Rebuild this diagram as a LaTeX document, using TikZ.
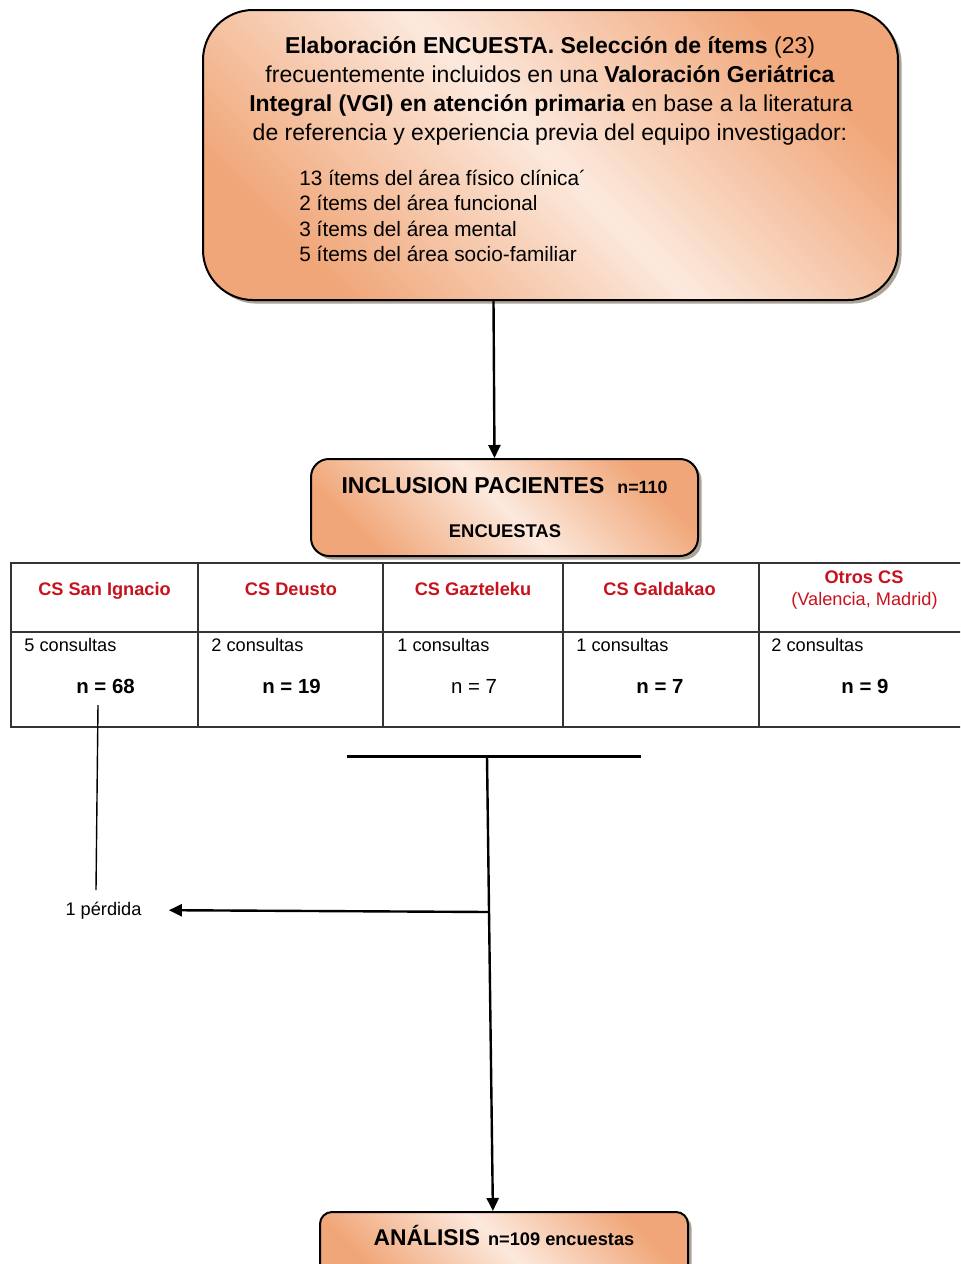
\documentclass[tikz,border=0pt]{standalone}
\usepackage{fontspec}
\setmainfont{Liberation Sans}
\usetikzlibrary{arrows.meta,shadows,calc}
\definecolor{boxor}{RGB}{240,166,120}
\definecolor{boxlt}{RGB}{252,233,221}
\definecolor{csred}{RGB}{200,18,30}
\tikzset{
  roundbox/.style={draw=black, line width=1pt, rounded corners=#1,
    left color=boxor, right color=boxor, middle color=boxlt, shading angle=135,
    drop shadow={shadow xshift=1.8pt, shadow yshift=-1.8pt, fill=black!60!brown, opacity=0.45}},
  bigtxt/.style={font=\fontsize{11.5}{14}\selectfont, anchor=base, inner sep=0pt},
  listtxt/.style={font=\fontsize{10.4}{12}\selectfont, anchor=base west, inner sep=0pt},
  tabtxt/.style={font=\fontsize{9.1}{11}\selectfont, inner sep=0pt},
  hdr/.style={tabtxt, text=csred, anchor=base},
  cons/.style={tabtxt, anchor=base west},
  nval/.style={font=\fontsize{10.2}{12}\selectfont, anchor=base, inner sep=0pt},
  tabline/.style={line width=0.8pt, draw=black!80},
  arr/.style={line width=1.2pt, -{Triangle[length=6.5pt,width=6pt]}},
  barline/.style={line width=1.5pt},
  thinline/.style={line width=0.7pt}
}
\begin{document}
\begin{tikzpicture}[x=0.5pt,y=-0.5pt]
\clip (0,0) rectangle (960,1264);
\fill[white] (0,0) rectangle (960,1264);

% boxes
\node[roundbox=25pt, minimum width=347.5pt, minimum height=145pt] (top) at (550.5,155) {};
\node[roundbox=9pt, minimum width=193.5pt, minimum height=48.5pt] (incl) at (504.5,507.5) {};
\node[roundbox=6pt, minimum width=184pt, minimum height=35pt] (ana) at (504,1247) {};

% top box text
\node[bigtxt] (t1) at (550,53) {\textbf{Elaboración ENCUESTA. Selección de ítems} (23)};
\node[bigtxt] (t2) at (550,82) {frecuentemente incluidos en una \textbf{Valoración Geriátrica}};
\node[bigtxt] (t3) at (551,111) {\textbf{Integral (VGI) en atención primaria} en base a la literatura};
\node[bigtxt] (t4) at (550,140) {de referencia y experiencia previa del equipo investigador:};
\node[listtxt] (l1) at (299,185) {13 ítems del área físico clínica´};
\node[listtxt] (l2) at (299,210) {2 ítems del área funcional};
\node[listtxt] (l3) at (299,236) {3 ítems del área mental};
\node[listtxt] (l4) at (299,261) {5 ítems del área socio-familiar};

% inclusion text
\node[anchor=base, inner sep=0pt] (inc1) at (504.5,493) {\bfseries{\fontsize{11.5}{14}\selectfont INCLUSION PACIENTES}\hspace{6.5pt}{\fontsize{8.9}{11}\selectfont n=110}};
\node[anchor=base, inner sep=0pt, font=\fontsize{9.2}{11}\selectfont\bfseries] (inc2) at (505,537) {ENCUESTAS};

% analysis text
\node[anchor=base, inner sep=0pt] (an1) at (504,1245) {\bfseries{\fontsize{11.4}{14}\selectfont ANÁLISIS}\hspace{4pt}{\fontsize{9.1}{11}\selectfont n=109 encuestas}};

% table
\draw[tabline] (11,563) rectangle (975,727);
\draw[tabline] (11,632) -- (975,632);
\foreach \x in {198,383,563,759} \draw[tabline] (\x,563) -- (\x,727);

\node[hdr, font=\fontsize{9.1}{11}\selectfont\bfseries] (h1) at (104.5,595) {CS San Ignacio};
\node[hdr, font=\fontsize{9.1}{11}\selectfont\bfseries] (h2) at (291,595) {CS Deusto};
\node[hdr, font=\fontsize{9.1}{11}\selectfont\bfseries] (h3) at (473,595) {CS Gazteleku};
\node[hdr, font=\fontsize{9.1}{11}\selectfont\bfseries] (h4) at (659.5,595) {CS Galdakao};
\node[hdr, font=\fontsize{9.1}{11}\selectfont\bfseries] (h5) at (864,583) {Otros CS};
\node[hdr] (h5b) at (864.5,605) {(Valencia, Madrid)};

\node[cons] (c1) at (24,651) {5 consultas};
\node[cons] (c2) at (211,651) {2 consultas};
\node[cons] (c3) at (397,651) {1 consultas};
\node[cons] (c4) at (576,651) {1 consultas};
\node[cons] (c5) at (771,651) {2 consultas};

\node[nval, font=\fontsize{10.2}{12}\selectfont\bfseries] (n1) at (105.5,693) {n = 68};
\node[nval, font=\fontsize{10.2}{12}\selectfont\bfseries] (n2) at (291.5,693) {n = 19};
\node[nval] (n3) at (474,693) {n = 7};
\node[nval, font=\fontsize{10.2}{12}\selectfont\bfseries] (n4) at (660,693) {n = 7};
\node[nval, font=\fontsize{10.2}{12}\selectfont\bfseries] (n5) at (865,693) {n = 9};

% loss
\node[tabtxt, anchor=base] (perdida) at (103.5,915) {1 pérdida};

% connectors
\draw[arr] ([xshift=-28.5pt]top.south) -- ([xshift=-5pt]incl.north);
\coordinate (lossTop) at (98,705);
\coordinate (lossBot) at (96,890);
\draw[thinline] (lossTop) -- (lossBot);
\coordinate (barL) at (347,756);
\coordinate (barR) at (641,756);
\coordinate (barM) at (487,756);
\coordinate (junc) at (489,912);
\draw[barline] (barL) -- (barR);
\draw[arr] (barM) -- ($(ana.north west)!0.47!(ana.north east)$);
\draw[arr] (junc) -- ([xshift=13.5pt]perdida.east);
\end{tikzpicture}
\end{document}
